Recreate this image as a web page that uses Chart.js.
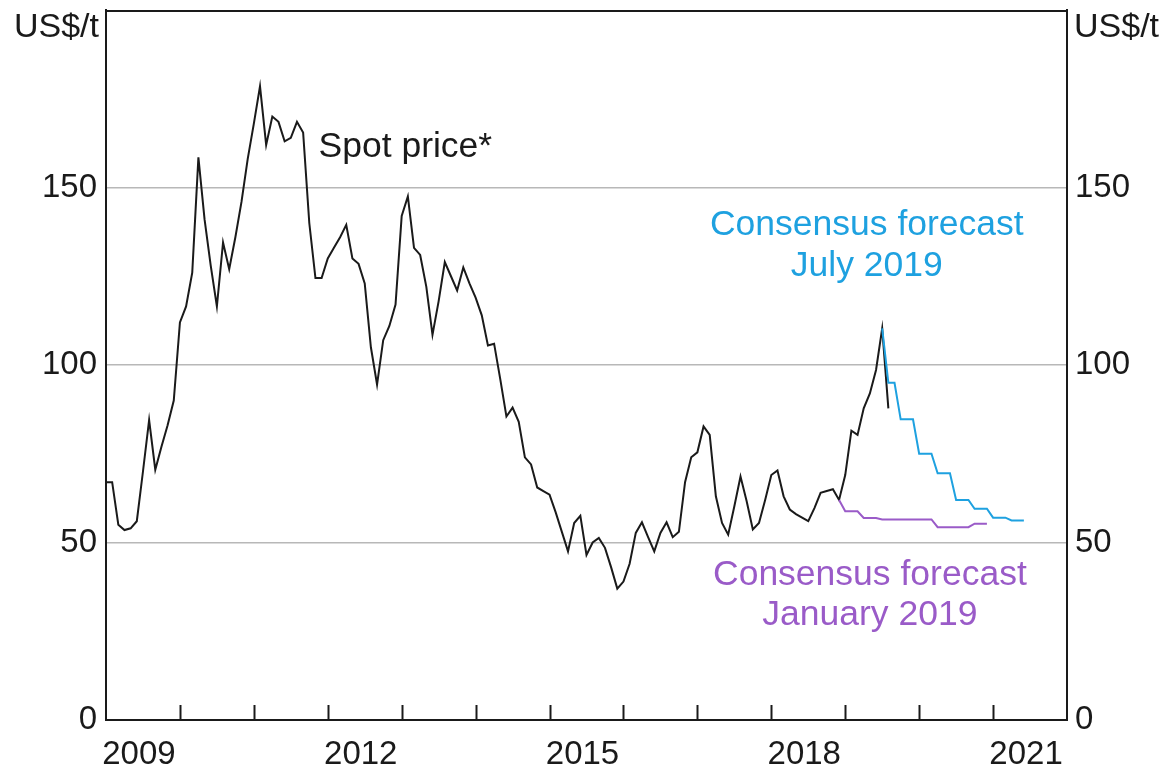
<!DOCTYPE html>
<html>
<head>
<meta charset="utf-8">
<script src="https://cdn.jsdelivr.net/npm/chart.js@4.4.1/dist/chart.umd.min.js"></script>
<style>
  html, body { margin: 0; padding: 0; background: #fff; }
  #wrap { width: 1166px; height: 771px; }
</style>
</head>
<body>
<div id="wrap"><canvas id="chart" width="1166" height="771"></canvas></div>
<script>
// Iron ore price, US$/t. Months counted from Jan 2009 (= 0).
const spotPrice = [
  67, 67, 55, 53.5, 54, 56, 70, 84.5, 70.5, 77, 83, 90,            // 2009
  112, 116.5, 126, 158.5, 141, 128, 116.5, 134.5, 127, 136, 146, 158, // 2010
  168, 178.5, 162, 170, 168.5, 163, 164, 168.5, 165.5, 140, 124.5, 124.5, // 2011
  130, 133, 136, 139.5, 130, 128.5, 123, 105, 94.5, 107, 111, 117, // 2012
  142, 147.5, 133, 131, 122, 108.5, 118, 129, 125, 121, 127.5, 123, // 2013
  119, 114, 105.5, 106, 96, 85.5, 88, 84, 74, 72, 65.5, 64.5,     // 2014
  63.5, 58.5, 53, 47.5, 55.5, 57.5, 46.5, 50, 51.3, 48.5, 43, 37,  // 2015
  39, 44, 52.7, 55.7, 51.5, 47.5, 52.7, 55.7, 51.5, 53, 67, 74,    // 2016
  75.4, 82.7, 80.3, 63, 55.5, 52.2, 60.2, 68.6, 61.6, 53.7, 55.5, 62, // 2017
  69, 70.3, 63, 59.3, 58, 57, 56, 59.7, 64, 64.5, 65, 62,          // 2018
  69, 81.5, 80.3, 87.8, 92, 98.6, 110.3, 87.8                      // 2019
];

const julyForecastStart = 126;   // Jul 2019
const julyForecast = [110.3, 95, 95, 84.7, 84.7, 84.7, 75, 75, 75, 69.5, 69.5, 69.5,
  62, 62, 62, 59.5, 59.5, 59.5, 57, 57, 57, 56.2, 56.2, 56.2];

const janForecastStart = 119;    // Dec 2018
const janForecast = [62, 58.8, 58.8, 58.8, 56.9, 56.9, 56.9, 56.5, 56.5, 56.5, 56.5, 56.5,
  56.5, 56.5, 56.5, 56.5, 54.3, 54.3, 54.3, 54.3, 54.3, 54.3, 55.3, 55.3, 55.3];

const yearLabels = ['2009', '2012', '2015', '2018', '2021'];
const yearLabelMonths = [6, 42, 78, 114, 150];
const yearStartMonths = [12, 24, 36, 48, 60, 72, 84, 96, 108, 120, 132, 144];
const yTicks = [0, 50, 100, 150, 200];
const yLabelled = [0, 50, 100, 150];

const INK = '#1a1a1a';
const BLUE = '#1ea1e0';
const PURPLE = '#9a5bc8';
const GRID = '#b8b8b8';
const FONT = '"Liberation Sans", Arial, sans-serif';

function toPoints(values, start) {
  return values.map((v, i) => ({ x: start + i, y: v }));
}

// year boundary ticks point inwards, so draw them ourselves
const innerTicks = {
  id: 'innerTicks',
  afterDatasetsDraw(chart) {
    const { ctx, chartArea, scales: { x } } = chart;
    ctx.save();
    ctx.strokeStyle = INK;
    ctx.lineWidth = 2;
    yearStartMonths.forEach(m => {
      const px = Math.round(x.getPixelForValue(m)) + 0.5;
      ctx.beginPath();
      ctx.moveTo(px, chartArea.bottom);
      ctx.lineTo(px, chartArea.bottom - 15);
      ctx.stroke();
    });
    ctx.beginPath();
    ctx.moveTo(chartArea.left, chartArea.top + 1);
    ctx.lineTo(chartArea.right, chartArea.top + 1);
    ctx.stroke();
    ctx.restore();
  }
};

const notes = {
  id: 'notes',
  afterDraw(chart) {
    const { ctx, chartArea, scales: { x, y } } = chart;
    ctx.save();
    ctx.font = '35.5px ' + FONT;
    ctx.textBaseline = 'alphabetic';

    ctx.fillStyle = INK;
    ctx.textAlign = 'left';
    ctx.fillText('Spot price*', x.getPixelForValue(34.5), y.getPixelForValue(158.7));

    ctx.textAlign = 'center';
    ctx.fillStyle = BLUE;
    ctx.fillText('Consensus forecast', x.getPixelForValue(123.5), y.getPixelForValue(136.5));
    ctx.fillText('July 2019', x.getPixelForValue(123.5), y.getPixelForValue(125.2));

    ctx.fillStyle = PURPLE;
    ctx.fillText('Consensus forecast', x.getPixelForValue(124), y.getPixelForValue(38));
    ctx.fillText('January 2019', x.getPixelForValue(124), y.getPixelForValue(26.7));

    ctx.fillStyle = INK;
    ctx.font = '34px ' + FONT;
    ctx.textAlign = 'right';
    ctx.fillText('US$/t', chartArea.left - 7, chartArea.top + 27);
    ctx.textAlign = 'left';
    ctx.fillText('US$/t', chartArea.right + 7, chartArea.top + 27);
    ctx.restore();
  }
};

const tickFont = { family: FONT, size: 33 };
const yLabel = v => (yLabelled.includes(v) ? String(v) : null);
const fitY = w => s => { s.width = w; s.paddingTop = 0; s.paddingBottom = 0; };

new Chart(document.getElementById('chart'), {
  type: 'line',
  data: {
    datasets: [
      { data: toPoints(janForecast, janForecastStart), borderColor: PURPLE, borderWidth: 2, pointRadius: 0, tension: 0 },
      { data: toPoints(julyForecast, julyForecastStart), borderColor: BLUE, borderWidth: 2, pointRadius: 0, tension: 0 },
      { data: toPoints(spotPrice, 0), borderColor: INK, borderWidth: 2, pointRadius: 0, tension: 0 },
    ],
  },
  options: {
    responsive: false,
    animation: false,
    layout: { padding: { top: 10, left: 0, right: 0, bottom: 0 } },
    plugins: { legend: { display: false }, tooltip: { enabled: false } },
    scales: {
      x: {
        type: 'linear', position: 'bottom', min: 0, max: 156,
        grid: { display: false },
        border: { display: true, color: INK, width: 2 },
        afterBuildTicks: s => { s.ticks = yearLabelMonths.map(v => ({ value: v })); },
        afterFit: s => { s.height = 51; },
        ticks: {
          autoSkip: false, maxRotation: 0, padding: 7, labelOffset: -4, color: INK, font: tickFont,
          callback: v => yearLabels[yearLabelMonths.indexOf(v)] || '',
        },
      },
      y: {
        position: 'left', min: 0, max: 200,
        afterBuildTicks: s => { s.ticks = yTicks.map(v => ({ value: v })); },
        afterFit: fitY(106),
        grid: {
          drawTicks: false, lineWidth: 1.5,
          color: c => (c.tick && c.tick.value > 0 && c.tick.value < 200 ? GRID : 'rgba(0,0,0,0)'),
        },
        border: { display: true, color: INK, width: 2 },
        ticks: { padding: 9, color: INK, font: tickFont, callback: yLabel },
      },
      yRight: {
        position: 'right', min: 0, max: 200,
        afterBuildTicks: s => { s.ticks = yTicks.map(v => ({ value: v })); },
        afterFit: fitY(99),
        grid: { display: false, drawTicks: false },
        border: { display: true, color: INK, width: 2 },
        ticks: { padding: 8, color: INK, font: tickFont, callback: yLabel },
      },
    },
  },
  plugins: [innerTicks, notes],
});
</script>
</body>
</html>
